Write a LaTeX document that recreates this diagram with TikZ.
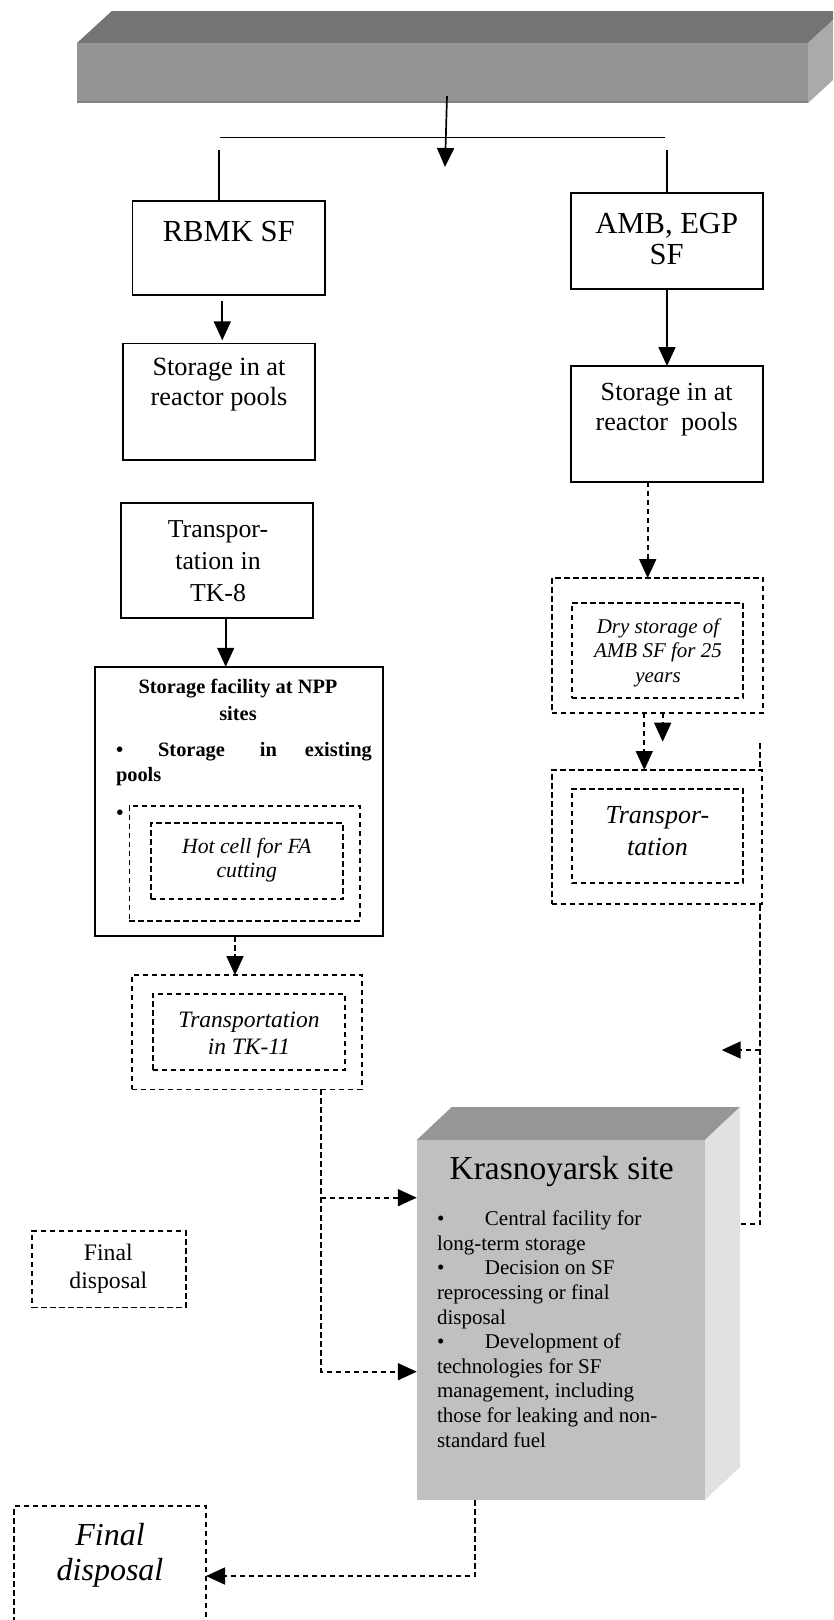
\documentclass[tikz,border=0pt]{standalone}
\usepackage{fontspec}
\setmainfont{Liberation Serif}
\usetikzlibrary{arrows.meta,calc}
\newcommand\fsz[2]{\fontsize{#1pt}{#2pt}\selectfont}
\definecolor{barTop}{HTML}{747474}
\definecolor{barFront}{HTML}{949494}
\definecolor{barSide}{HTML}{AAAAAA}
\definecolor{barEdge}{HTML}{828282}
\definecolor{krasTop}{HTML}{969696}
\definecolor{krasFront}{HTML}{C0C0C0}
\definecolor{krasSide}{HTML}{E1E1E1}

\begin{document}
\begin{tikzpicture}[x=1pt,y=-1pt,
  box/.style={draw, line width=1.7pt, inner sep=0pt, outer sep=0pt, fill=white},
  dbox/.style={box, dash pattern=on 5.5pt off 3.5pt},
  lbl/.style={inner sep=0pt, outer sep=0pt, align=center},
  link/.style={line width=1.7pt},
  dlink/.style={link, dash pattern=on 5.5pt off 3.5pt},
  arrowed/.style={-{Triangle[length=19pt,width=17pt]}}]

\useasboundingbox (0,0) rectangle (833,1620);
\clip (0,0) rectangle (833,1620);

% ---------- top bar ----------
\fill[barTop] (77,43) -- (111.8,11) -- (842.8,11) -- (808,43) -- cycle;
\fill[barSide] (808,43) -- (842.8,11) -- (842.8,71) -- (808,103) -- cycle;
\node[fill=barFront, inner sep=0pt, outer sep=0pt, minimum width=731pt, minimum height=60pt] (bar) at (442.5,73) {};
\draw[barEdge, line width=2pt] (77,102) -- (808,102);

% ---------- long dashed line on the right ----------
\coordinate (rtop) at (760,743);
\coordinate (krasR) at (740,1224);
\draw[dlink] (rtop) |- (krasR);
\coordinate (rmid) at (760,1050);
\coordinate (rtipL) at (721.7,1050);
\draw[dlink, arrowed] (rmid) -- (rtipL);

% ---------- left column ----------
\node[box, minimum width=192.7pt, minimum height=94.6pt] (rbmk) at (228.7,248) {};
\node[lbl, font=\fsz{30.6}{31.7}] (rbmkT) at (228.7,231.7) {RBMK SF};

\node[box, minimum width=192.3pt, minimum height=116.7pt] (stL) at (218.9,401.7) {};
\node[lbl, font=\fsz{26.3}{30}] (stLT) at (219,385) {Storage in at\\reactor pools};

\node[box, minimum width=192pt, minimum height=114.4pt] (tk8) at (216.7,560.5) {};
\node[lbl, font=\fsz{25.8}{31.7}] (tk8T) at (218,561) {Transpor-\\tation in\\TK-8};

\node[box, minimum width=287.7pt, minimum height=269.3pt] (sf) at (238.9,801.4) {};
\node[lbl, font=\fsz{20.4}{26.3}\bfseries] (sfT) at (238,700) {Storage facility at NPP\\sites};
\node[lbl, anchor=west, font=\fsz{20.4}{25}\bfseries] (sfB1) at (116,751.7)
  {\textbullet\hspace{35pt}Storage\hspace{35pt}in\hspace{28pt}existing};
\node[lbl, anchor=west, font=\fsz{20.4}{25}\bfseries] (sfB2) at (116,776.7) {pools};
\node[lbl, font=\fsz{20.4}{25}\bfseries] (sfB3) at (120,815) {\textbullet};
\node[dbox, minimum width=230.7pt, minimum height=114.7pt] (hotO) at (244.7,863.4) {};
\node[dbox, minimum width=192.6pt, minimum height=76pt] (hotI) at (247,861.3) {};
\node[lbl, font=\fsz{21.7}{23.7}\itshape] (hotT) at (246.7,860) {Hot cell for FA\\cutting};

\node[dbox, minimum width=230pt, minimum height=114.3pt] (tk11O) at (246.7,1032.2) {};
\node[dbox, minimum width=192.3pt, minimum height=76pt] (tk11I) at (248.9,1032) {};
\node[lbl, font=\fsz{23.5}{27.4}\itshape] (tk11T) at (249,1033) {Transportation\\in TK-11};

\node[dbox, minimum width=153.4pt, minimum height=76.3pt] (fdS) at (109,1269.2) {};
\node[lbl, font=\fsz{23.7}{28.3}] (fdST) at (108.3,1269) {Final\\disposal};

\node[dbox, minimum width=192pt, minimum height=144pt] (fdB) at (110,1578) {};
\node[lbl, font=\fsz{32}{35}\itshape] (fdBT) at (110,1555.5) {Final\\disposal};

% ---------- right column ----------
\node[box, minimum width=192.6pt, minimum height=96pt] (amb) at (667,241.3) {};
\node[lbl, font=\fsz{30.6}{31.7}] (ambT) at (666.7,239) {AMB, EGP\\SF};

\node[box, minimum width=192.6pt, minimum height=115.7pt] (stR) at (667,423.9) {};
\node[lbl, font=\fsz{26.1}{30}] (stRT) at (666.7,410) {Storage in at\\reactor\ \ pools};

\node[dbox, minimum width=211.6pt, minimum height=134.7pt] (dryO) at (657.5,645.4) {};
\node[dbox, minimum width=171.6pt, minimum height=95pt] (dryI) at (657.5,650.5) {};
\node[lbl, font=\fsz{21}{24.5}\itshape] (dryT) at (658,652.5) {Dry storage of\\AMB SF for 25\\years};

\node[dbox, minimum width=210pt, minimum height=134pt] (trO) at (656.7,837) {};
\node[dbox, minimum width=171.6pt, minimum height=94pt] (trI) at (657.5,836) {};
\node[lbl, font=\fsz{26}{32}\itshape] (trT) at (657.5,831) {Transpor-\\tation};

% ---------- Krasnoyarsk block ----------
\fill[krasTop] (416.7,1140) -- (451.7,1107) -- (740,1107) -- (705,1140) -- cycle;
\fill[krasSide] (705,1140) -- (740,1107) -- (740,1467) -- (705,1500) -- cycle;
\node[fill=krasFront, inner sep=0pt, outer sep=0pt, minimum width=288.3pt, minimum height=360pt] (kras) at (560.9,1320) {};
\node[lbl, font=\fsz{33.5}{37}] (krasT) at (561.7,1171.7) {Krasnoyarsk site};
\node[lbl, align=left, anchor=west, font=\fsz{21}{24.6}] (krasB) at (437,1329) {%
\makebox[48pt][l]{\textbullet}Central facility for\\
long-term storage\\
\makebox[48pt][l]{\textbullet}Decision on SF\\
reprocessing or final\\
disposal\\
\makebox[48pt][l]{\textbullet}Development of\\
technologies for SF\\
management, including\\
those for leaking and non-\\
standard fuel};

% ---------- connectors ----------
\coordinate (barOut) at (447,96);
\coordinate (hub) at (445,167);
\draw[link, arrowed] (barOut) -- (hub);
\coordinate (splitL) at (220,137.5);
\coordinate (splitR) at (665,137.5);
\draw[link] (splitL) -- (splitR);
\coordinate (dropL) at (219,150);
\coordinate (dropR) at (666.7,150);
\draw[link] (dropL) -- (dropL |- rbmk.north);
\draw[link] (dropR) -- (dropR |- amb.north);

\coordinate (r1) at ([xshift=-6.4pt]rbmk.south);
\draw[link, arrowed, shorten <=6pt, shorten >=3pt] (r1) -- (r1 |- stL.north);
\draw[link, arrowed] (amb.south) -- (stR.north);
\coordinate (t1) at ([xshift=9pt]tk8.south);
\draw[link, arrowed] (t1) -- (t1 |- sf.north);

\coordinate (s1) at ([xshift=-19.3pt]stR.south);
\draw[dlink, arrowed] (s1) -- (s1 |- dryO.north);
\coordinate (d1) at ([xshift=-13.2pt]dryO.south);
\draw[dlink, arrowed] (d1) -- (d1 |- trO.north);
\coordinate (d2) at ([xshift=5.2pt]dryO.south);
\coordinate (d2e) at (662.7,741.7);
\draw[dlink, arrowed] (d2) -- (d2e);

\coordinate (f1) at ([xshift=-3.9pt]sf.south);
\draw[dlink, arrowed] (f1) -- (f1 |- tk11O.north);
\coordinate (k1) at ([xshift=74.3pt]tk11O.south);
\draw[dlink, arrowed] (k1) |- (kras.west |- 0,1197.7);
\draw[dlink, arrowed] (k1) |- (kras.west |- 0,1371.7);

\coordinate (b1) at ([xshift=-85.9pt]kras.south);
\draw[dlink, arrowed] (b1) |- (fdB.east |- 0,1576);
\end{tikzpicture}
\end{document}
